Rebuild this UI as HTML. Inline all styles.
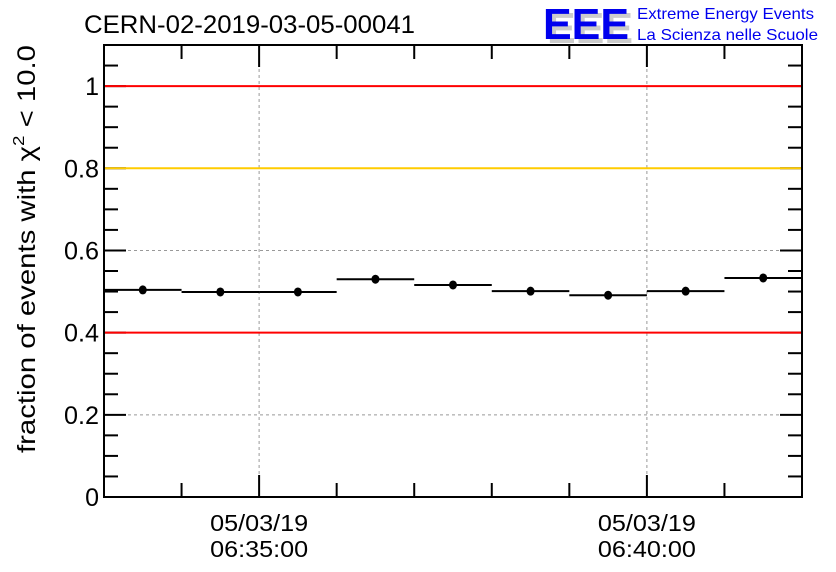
<!DOCTYPE html>
<html><head><meta charset="utf-8"><style>
body{margin:0;background:#fff;}
svg{display:block;font-family:"Liberation Sans",sans-serif;}
</style></head><body>
<svg id="chart" width="836" height="572" viewBox="0 0 836 572">
<text x="84" y="33" font-size="25" textLength="331" lengthAdjust="spacingAndGlyphs">CERN-02-2019-03-05-00041</text>
<g>
<text x="547" y="43" font-size="44" font-weight="bold" fill="#ccc" textLength="86" lengthAdjust="spacingAndGlyphs">EEE</text>
<text x="543" y="39" font-size="44" font-weight="bold" fill="#0000ee" textLength="86" lengthAdjust="spacingAndGlyphs">EEE</text>
<text x="637" y="19" font-size="16" fill="#0000ee" textLength="177" lengthAdjust="spacingAndGlyphs">Extreme Energy Events</text>
<text x="637" y="40" font-size="16" fill="#0000ee" textLength="181" lengthAdjust="spacingAndGlyphs">La Scienza nelle Scuole</text>
</g>
<text transform="translate(35,453) rotate(-90)" font-size="25" textLength="408" lengthAdjust="spacingAndGlyphs">fraction of events with χ<tspan font-size="16" dy="-11">2</tspan><tspan dy="11"> &lt; 10.0</tspan></text>
<g id="grid"></g><g id="refs"></g><g id="data"></g><g id="axes"></g>
</svg>
<script>
const binLabels=["06:33","06:34","06:35","06:36","06:37","06:38","06:39","06:40","06:41"];
const values=[0.504,0.499,0.499,0.530,0.516,0.501,0.491,0.501,0.533];
const refLines=[1.0,0.8,0.4];
const refColors=["#ff0000","#ffcc00","#ff0000"];
const yTicks=[0,0.2,0.4,0.6,0.8,1];
const yTickLabels=["0","0.2","0.4","0.6","0.8","1"];
const xMajorMin=[2,7];
const xMajorLabels=[["05/03/19","06:35:00"],["05/03/19","06:40:00"]];
const L=104,R=802,T=45,B=497,yMax=1.1,nBins=9;
const NS="http://www.w3.org/2000/svg";
const X=m=>L+(R-L)*m/nBins;
const Y=v=>B-(B-T)*v/yMax;
function mk(p,tag,a){const e=document.createElementNS(NS,tag);for(const k in a)e.setAttribute(k,a[k]);p.appendChild(e);return e;}
const grid=document.getElementById('grid'),refs=document.getElementById('refs'),data=document.getElementById('data'),axes=document.getElementById('axes');
[0.2,0.6].forEach(v=>{const l=mk(grid,'line',{x1:L,x2:R,y1:Y(v),y2:Y(v),stroke:'#999','stroke-dasharray':'3,3','stroke-width':1});

});
xMajorMin.forEach(m=>{const l=mk(grid,'line',{x1:X(m),x2:X(m),y1:T,y2:B,stroke:'#999','stroke-dasharray':'3,3','stroke-width':1});

});
for(let k=0;k<=22;k++){const v=k*0.05,len=(k%4===0)?22:14;
mk(axes,'line',{x1:L,x2:L+len,y1:Y(v),y2:Y(v),stroke:'#000','stroke-width':2});
mk(axes,'line',{x1:R-len,x2:R,y1:Y(v),y2:Y(v),stroke:'#000','stroke-width':2});}
refLines.forEach((v,i)=>{const l=mk(axes,'line',{x1:L,x2:R,y1:Y(v),y2:Y(v),stroke:refColors[i],'stroke-width':2});

});
values.forEach((v,i)=>{const g=mk(data,'g',{});


mk(g,'line',{x1:X(i),x2:X(i+1),y1:Y(v),y2:Y(v),stroke:'#000','stroke-width':2});
mk(g,'ellipse',{cx:(X(i)+X(i+1))/2,cy:Y(v),rx:4,ry:4.5,fill:'#000'});});
const fr=mk(axes,'rect',{x:L,y:T,width:R-L,height:B-T,fill:'none',stroke:'#000','stroke-width':2});


yTicks.forEach((v,i)=>{const t=mk(axes,'text',{x:L-5,y:Y(v)+9,'font-size':25,'text-anchor':'end'});t.textContent=yTickLabels[i];
if(yTickLabels[i].length>1){t.setAttribute('textLength',35);t.setAttribute('lengthAdjust','spacingAndGlyphs');}

});
for(let m=1;m<nBins;m++){const len=xMajorMin.includes(m)?22:14;
mk(axes,'line',{x1:X(m),x2:X(m),y1:B,y2:B-len,stroke:'#000','stroke-width':2});
mk(axes,'line',{x1:X(m),x2:X(m),y1:T,y2:T+len,stroke:'#000','stroke-width':2});}
xMajorMin.forEach((m,i)=>{xMajorLabels[i].forEach((s,j)=>{const t=mk(axes,'text',{x:X(m)-49,y:531+j*26,'font-size':23,textLength:98,lengthAdjust:'spacingAndGlyphs'});t.textContent=s;

});});
</script>
</body></html>
